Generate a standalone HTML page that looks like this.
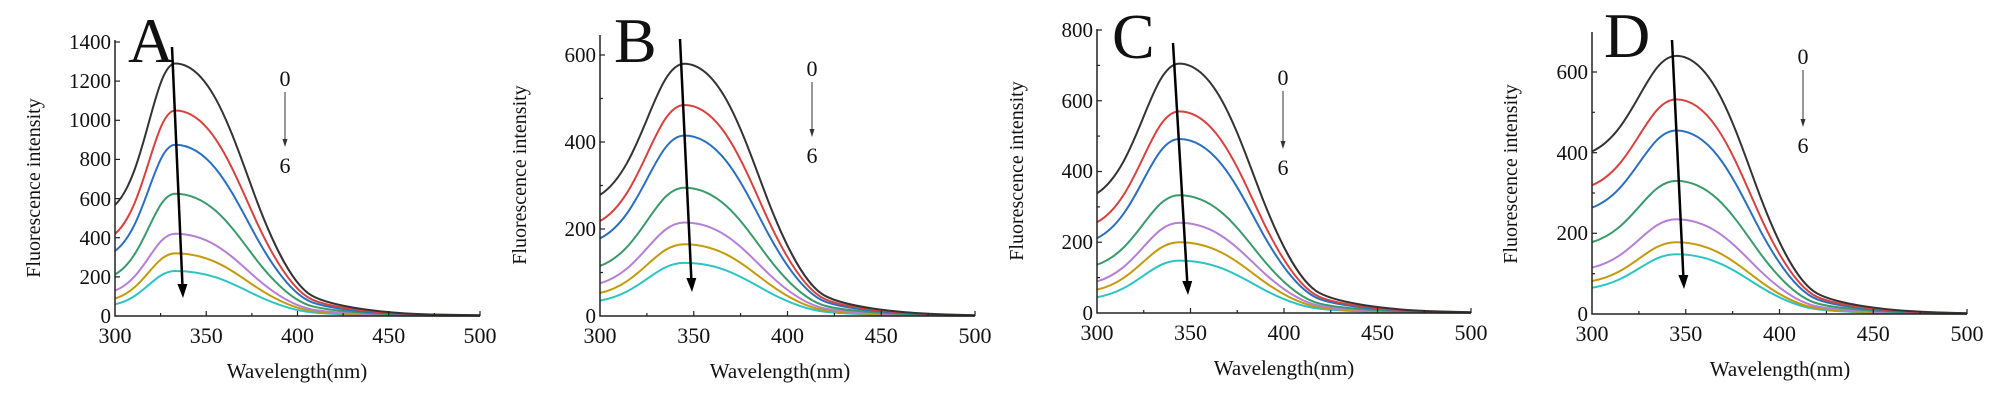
<!DOCTYPE html>
<html><head><meta charset="utf-8"><style>
body{margin:0;background:#fff}
svg{display:block}
text{font-family:"Liberation Serif",serif;fill:#111}
.c path{fill:none;stroke-width:2;vector-effect:non-scaling-stroke}
.ax{fill:none;stroke:#222;stroke-width:1.5}
.tk{stroke:#222;stroke-width:1.2}
.xl{font-size:22px;text-anchor:middle}
.yl{font-size:21px;text-anchor:end}
.tt{font-size:21px;text-anchor:middle}
.lg{font-size:22px;text-anchor:middle}
.L{font-size:64px}
</style></head><body>
<svg width="2004" height="402" xmlns="http://www.w3.org/2000/svg">
<!-- ===== A ===== -->
<g class="c">
<path transform="translate(115,316) scale(1.825,-45.0) translate(-300,0)" stroke="#2bc4c4" d="M300,.26 C316.5,.408 321.5,1 333,1 C353,1 365,.7 378,.45 C388,.26 398,.12 408,.08 C418,.04 443,.012 473,.006 L500,.003"/>
<path transform="translate(115,316) scale(1.825,-62.6) translate(-300,0)" stroke="#c39a0a" d="M300,.28 C316.5,.424 321.5,1 333,1 C353,1 365,.7 378,.45 C388,.26 398,.12 408,.08 C418,.04 443,.012 473,.006 L500,.003"/>
<path transform="translate(115,316) scale(1.825,-82.2) translate(-300,0)" stroke="#b57fd6" d="M300,.31 C316.5,.448 321.5,1 333,1 C353,1 365,.7 378,.45 C388,.26 398,.12 408,.08 C418,.04 443,.012 473,.006 L500,.003"/>
<path transform="translate(115,316) scale(1.825,-122.3) translate(-300,0)" stroke="#3a9a6a" d="M300,.34 C316.5,.472 321.5,1 333,1 C353,1 365,.7 378,.45 C388,.26 398,.12 408,.08 C418,.04 443,.012 473,.006 L500,.003"/>
<path transform="translate(115,316) scale(1.825,-171.3) translate(-300,0)" stroke="#2a6fbf" d="M300,.38 C316.5,.504 321.5,1 333,1 C353,1 365,.7 378,.45 C388,.26 398,.12 408,.08 C418,.04 443,.012 473,.006 L500,.003"/>
<path transform="translate(115,316) scale(1.825,-205.5) translate(-300,0)" stroke="#d9413f" d="M300,.40 C316.5,.52 321.5,1 333,1 C353,1 365,.7 378,.45 C388,.26 398,.12 408,.08 C418,.04 443,.012 473,.006 L500,.003"/>
<path transform="translate(115,316) scale(1.825,-252.5) translate(-300,0)" stroke="#333333" d="M300,.44 C316.5,.552 321.5,1 333,1 C353,1 365,.7 378,.45 C388,.26 398,.12 408,.08 C418,.04 443,.012 473,.006 L500,.003"/>
</g>
<path class="ax" d="M115,40V316H480"/>
<g class="tk">
<line x1="206.25" y1="316" x2="206.25" y2="311"/><line x1="297.5" y1="316" x2="297.5" y2="311"/><line x1="388.75" y1="316" x2="388.75" y2="311"/><line x1="480" y1="316" x2="480" y2="311"/>
<line x1="160.6" y1="316" x2="160.6" y2="313"/><line x1="251.9" y1="316" x2="251.9" y2="313"/><line x1="343.1" y1="316" x2="343.1" y2="313"/><line x1="434.4" y1="316" x2="434.4" y2="313"/>
<line x1="115" y1="276.9" x2="120" y2="276.9"/><line x1="115" y1="237.7" x2="120" y2="237.7"/><line x1="115" y1="198.6" x2="120" y2="198.6"/><line x1="115" y1="159.4" x2="120" y2="159.4"/><line x1="115" y1="120.3" x2="120" y2="120.3"/><line x1="115" y1="81.1" x2="120" y2="81.1"/><line x1="115" y1="42" x2="120" y2="42"/>
</g>
<text class="xl" x="115" y="343">300</text><text class="xl" x="206.25" y="343">350</text><text class="xl" x="297.5" y="343">400</text><text class="xl" x="388.75" y="343">450</text><text class="xl" x="480" y="343">500</text>
<text class="yl" x="111" y="323">0</text><text class="yl" x="111" y="284">200</text><text class="yl" x="111" y="245">400</text><text class="yl" x="111" y="206">600</text><text class="yl" x="111" y="166">800</text><text class="yl" x="111" y="127">1000</text><text class="yl" x="111" y="88">1200</text><text class="yl" x="111" y="49">1400</text>
<text class="tt" x="297" y="378">Wavelength(nm)</text>
<text class="tt" transform="translate(40,188) rotate(-90)" style="font-size:20px">Fluorescence intensity</text>
<text class="L" x="128" y="62">A</text>
<line x1="172" y1="47" x2="182.4" y2="284" stroke="#000" stroke-width="2.5"/><polygon points="183,298 177.4,284 187.4,284" fill="#000"/>
<text class="lg" x="285" y="86">0</text><line x1="285" y1="92" x2="285" y2="141" stroke="#333"/><polygon points="285,147 282.5,139 287.5,139" fill="#333"/><text class="lg" x="285" y="173">6</text>

<!-- ===== B ===== -->
<g class="c">
<path transform="translate(600,316) scale(1.875,-53.1) translate(-300,0)" stroke="#2bc4c4" d="M300,.29 C322.5,.432 329.25,1 345,1 C365,1 377,.7 390,.45 C400,.26 410,.12 420,.08 C430,.04 455,.012 485,.006 L500,.003"/>
<path transform="translate(600,316) scale(1.875,-71.8) translate(-300,0)" stroke="#c39a0a" d="M300,.32 C322.5,.456 329.25,1 345,1 C365,1 377,.7 390,.45 C400,.26 410,.12 420,.08 C430,.04 455,.012 485,.006 L500,.003"/>
<path transform="translate(600,316) scale(1.875,-93.5) translate(-300,0)" stroke="#b57fd6" d="M300,.35 C322.5,.48 329.25,1 345,1 C365,1 377,.7 390,.45 C400,.26 410,.12 420,.08 C430,.04 455,.012 485,.006 L500,.003"/>
<path transform="translate(600,316) scale(1.875,-128.3) translate(-300,0)" stroke="#3a9a6a" d="M300,.39 C322.5,.512 329.25,1 345,1 C365,1 377,.7 390,.45 C400,.26 410,.12 420,.08 C430,.04 455,.012 485,.006 L500,.003"/>
<path transform="translate(600,316) scale(1.875,-180.5) translate(-300,0)" stroke="#2a6fbf" d="M300,.43 C322.5,.544 329.25,1 345,1 C365,1 377,.7 390,.45 C400,.26 410,.12 420,.08 C430,.04 455,.012 485,.006 L500,.003"/>
<path transform="translate(600,316) scale(1.875,-211.0) translate(-300,0)" stroke="#d9413f" d="M300,.45 C322.5,.56 329.25,1 345,1 C365,1 377,.7 390,.45 C400,.26 410,.12 420,.08 C430,.04 455,.012 485,.006 L500,.003"/>
<path transform="translate(600,316) scale(1.875,-252.3) translate(-300,0)" stroke="#333333" d="M300,.48 C322.5,.584 329.25,1 345,1 C365,1 377,.7 390,.45 C400,.26 410,.12 420,.08 C430,.04 455,.012 485,.006 L500,.003"/>
</g>
<path class="ax" d="M600,35V316H975"/>
<g class="tk">
<line x1="693.75" y1="316" x2="693.75" y2="311"/><line x1="787.5" y1="316" x2="787.5" y2="311"/><line x1="881.25" y1="316" x2="881.25" y2="311"/><line x1="975" y1="316" x2="975" y2="311"/>
<line x1="646.9" y1="316" x2="646.9" y2="313"/><line x1="740.6" y1="316" x2="740.6" y2="313"/><line x1="834.4" y1="316" x2="834.4" y2="313"/><line x1="928.1" y1="316" x2="928.1" y2="313"/>
<line x1="600" y1="229" x2="605" y2="229"/><line x1="600" y1="142" x2="605" y2="142"/><line x1="600" y1="55" x2="605" y2="55"/>
<line x1="600" y1="272.5" x2="603" y2="272.5"/><line x1="600" y1="185.5" x2="603" y2="185.5"/><line x1="600" y1="98.5" x2="603" y2="98.5"/>
</g>
<text class="xl" x="600" y="343">300</text><text class="xl" x="693.75" y="343">350</text><text class="xl" x="787.5" y="343">400</text><text class="xl" x="881.25" y="343">450</text><text class="xl" x="975" y="343">500</text>
<text class="yl" x="596" y="323">0</text><text class="yl" x="596" y="236">200</text><text class="yl" x="596" y="149">400</text><text class="yl" x="596" y="62">600</text>
<text class="tt" x="780" y="378">Wavelength(nm)</text>
<text class="tt" transform="translate(526,175) rotate(-90)" style="font-size:20px">Fluorescence intensity</text>
<text class="L" x="614" y="62">B</text>
<line x1="680" y1="39" x2="691.3" y2="278" stroke="#000" stroke-width="2.5"/><polygon points="692,292 686.3,278 696.3,278" fill="#000"/>
<text class="lg" x="812" y="76">0</text><line x1="812" y1="82" x2="812" y2="131" stroke="#333"/><polygon points="812,137 809.5,129 814.5,129" fill="#333"/><text class="lg" x="812" y="163">6</text>

<!-- ===== C ===== -->
<g class="c">
<path transform="translate(1097,313) scale(1.87,-52.4) translate(-300,0)" stroke="#2bc4c4" d="M300,.30 C322,.44 328.6,1 344,1 C364,1 376,.7 389,.45 C399,.26 409,.12 419,.08 C429,.04 454,.012 484,.006 L500,.003"/>
<path transform="translate(1097,313) scale(1.87,-70.75) translate(-300,0)" stroke="#c39a0a" d="M300,.33 C322,.464 328.6,1 344,1 C364,1 376,.7 389,.45 C399,.26 409,.12 419,.08 C429,.04 454,.012 484,.006 L500,.003"/>
<path transform="translate(1097,313) scale(1.87,-90.2) translate(-300,0)" stroke="#b57fd6" d="M300,.35 C322,.48 328.6,1 344,1 C364,1 376,.7 389,.45 C399,.26 409,.12 419,.08 C429,.04 454,.012 484,.006 L500,.003"/>
<path transform="translate(1097,313) scale(1.87,-117.8) translate(-300,0)" stroke="#3a9a6a" d="M300,.41 C322,.528 328.6,1 344,1 C364,1 376,.7 389,.45 C399,.26 409,.12 419,.08 C429,.04 454,.012 484,.006 L500,.003"/>
<path transform="translate(1097,313) scale(1.87,-174.0) translate(-300,0)" stroke="#2a6fbf" d="M300,.43 C322,.544 328.6,1 344,1 C364,1 376,.7 389,.45 C399,.26 409,.12 419,.08 C429,.04 454,.012 484,.006 L500,.003"/>
<path transform="translate(1097,313) scale(1.87,-201.6) translate(-300,0)" stroke="#d9413f" d="M300,.45 C322,.56 328.6,1 344,1 C364,1 376,.7 389,.45 C399,.26 409,.12 419,.08 C429,.04 454,.012 484,.006 L500,.003"/>
<path transform="translate(1097,313) scale(1.87,-249.4) translate(-300,0)" stroke="#333333" d="M300,.48 C322,.584 328.6,1 344,1 C364,1 376,.7 389,.45 C399,.26 409,.12 419,.08 C429,.04 454,.012 484,.006 L500,.003"/>
</g>
<path class="ax" d="M1097,29V313H1471"/>
<g class="tk">
<line x1="1190.5" y1="313" x2="1190.5" y2="308"/><line x1="1284" y1="313" x2="1284" y2="308"/><line x1="1377.5" y1="313" x2="1377.5" y2="308"/><line x1="1471" y1="313" x2="1471" y2="308"/>
<line x1="1143.75" y1="313" x2="1143.75" y2="310"/><line x1="1237.25" y1="313" x2="1237.25" y2="310"/><line x1="1330.75" y1="313" x2="1330.75" y2="310"/><line x1="1424.25" y1="313" x2="1424.25" y2="310"/>
<line x1="1097" y1="242.25" x2="1102" y2="242.25"/><line x1="1097" y1="171.5" x2="1102" y2="171.5"/><line x1="1097" y1="100.75" x2="1102" y2="100.75"/><line x1="1097" y1="30" x2="1102" y2="30"/>
<line x1="1097" y1="277.6" x2="1100" y2="277.6"/><line x1="1097" y1="206.9" x2="1100" y2="206.9"/><line x1="1097" y1="136.1" x2="1100" y2="136.1"/><line x1="1097" y1="65.4" x2="1100" y2="65.4"/>
</g>
<text class="xl" x="1097" y="340">300</text><text class="xl" x="1190.5" y="340">350</text><text class="xl" x="1284" y="340">400</text><text class="xl" x="1377.5" y="340">450</text><text class="xl" x="1471" y="340">500</text>
<text class="yl" x="1093" y="320">0</text><text class="yl" x="1093" y="249">200</text><text class="yl" x="1093" y="178">400</text><text class="yl" x="1093" y="108">600</text><text class="yl" x="1093" y="37">800</text>
<text class="tt" x="1284" y="375">Wavelength(nm)</text>
<text class="tt" transform="translate(1023,171) rotate(-90)" style="font-size:20px">Fluorescence intensity</text>
<text class="L" x="1112" y="58">C</text>
<line x1="1173" y1="43" x2="1187.2" y2="281" stroke="#000" stroke-width="2.5"/><polygon points="1188,295 1182.2,281 1192.2,281" fill="#000"/>
<text class="lg" x="1283" y="85">0</text><line x1="1283" y1="91" x2="1283" y2="143" stroke="#333"/><polygon points="1283,149 1280.5,141 1285.5,141" fill="#333"/><text class="lg" x="1283" y="175">6</text>

<!-- ===== D ===== -->
<g class="c">
<path transform="translate(1592,314) scale(1.875,-59.7) translate(-300,0)" stroke="#2bc4c4" d="M300,.44 C322.5,.552 329.25,1 345,1 C365,1 377,.7 390,.45 C400,.26 410,.12 420,.08 C430,.04 455,.012 485,.006 L500,.003"/>
<path transform="translate(1592,314) scale(1.875,-71.8) translate(-300,0)" stroke="#c39a0a" d="M300,.46 C322.5,.568 329.25,1 345,1 C365,1 377,.7 390,.45 C400,.26 410,.12 420,.08 C430,.04 455,.012 485,.006 L500,.003"/>
<path transform="translate(1592,314) scale(1.875,-94.8) translate(-300,0)" stroke="#b57fd6" d="M300,.49 C322.5,.592 329.25,1 345,1 C365,1 377,.7 390,.45 C400,.26 410,.12 420,.08 C430,.04 455,.012 485,.006 L500,.003"/>
<path transform="translate(1592,314) scale(1.875,-133.1) translate(-300,0)" stroke="#3a9a6a" d="M300,.54 C322.5,.632 329.25,1 345,1 C365,1 377,.7 390,.45 C400,.26 410,.12 420,.08 C430,.04 455,.012 485,.006 L500,.003"/>
<path transform="translate(1592,314) scale(1.875,-183.5) translate(-300,0)" stroke="#2a6fbf" d="M300,.58 C322.5,.664 329.25,1 345,1 C365,1 377,.7 390,.45 C400,.26 410,.12 420,.08 C430,.04 455,.012 485,.006 L500,.003"/>
<path transform="translate(1592,314) scale(1.875,-214.6) translate(-300,0)" stroke="#d9413f" d="M300,.60 C322.5,.68 329.25,1 345,1 C365,1 377,.7 390,.45 C400,.26 410,.12 420,.08 C430,.04 455,.012 485,.006 L500,.003"/>
<path transform="translate(1592,314) scale(1.875,-258.1) translate(-300,0)" stroke="#333333" d="M300,.63 C322.5,.704 329.25,1 345,1 C365,1 377,.7 390,.45 C400,.26 410,.12 420,.08 C430,.04 455,.012 485,.006 L500,.003"/>
</g>
<path class="ax" d="M1592,32V314H1967"/>
<g class="tk">
<line x1="1685.75" y1="314" x2="1685.75" y2="309"/><line x1="1779.5" y1="314" x2="1779.5" y2="309"/><line x1="1873.25" y1="314" x2="1873.25" y2="309"/><line x1="1967" y1="314" x2="1967" y2="309"/>
<line x1="1638.9" y1="314" x2="1638.9" y2="311"/><line x1="1732.6" y1="314" x2="1732.6" y2="311"/><line x1="1826.4" y1="314" x2="1826.4" y2="311"/><line x1="1920.1" y1="314" x2="1920.1" y2="311"/>
<line x1="1592" y1="233.3" x2="1597" y2="233.3"/><line x1="1592" y1="152.7" x2="1597" y2="152.7"/><line x1="1592" y1="72" x2="1597" y2="72"/>
<line x1="1592" y1="273.7" x2="1595" y2="273.7"/><line x1="1592" y1="193" x2="1595" y2="193"/><line x1="1592" y1="112.3" x2="1595" y2="112.3"/>
</g>
<text class="xl" x="1592" y="341">300</text><text class="xl" x="1685.75" y="341">350</text><text class="xl" x="1779.5" y="341">400</text><text class="xl" x="1873.25" y="341">450</text><text class="xl" x="1967" y="341">500</text>
<text class="yl" x="1588" y="321">0</text><text class="yl" x="1588" y="240">200</text><text class="yl" x="1588" y="160">400</text><text class="yl" x="1588" y="79">600</text>
<text class="tt" x="1780" y="376">Wavelength(nm)</text>
<text class="tt" transform="translate(1517,174) rotate(-90)" style="font-size:20px">Fluorescence intensity</text>
<text class="L" x="1604" y="57">D</text>
<line x1="1672" y1="40" x2="1683.3" y2="275" stroke="#000" stroke-width="2.5"/><polygon points="1684,289 1678.3,275 1688.3,275" fill="#000"/>
<text class="lg" x="1803" y="64">0</text><line x1="1803" y1="70" x2="1803" y2="121" stroke="#333"/><polygon points="1803,127 1800.5,119 1805.5,119" fill="#333"/><text class="lg" x="1803" y="153">6</text>
</svg>
</body></html>
